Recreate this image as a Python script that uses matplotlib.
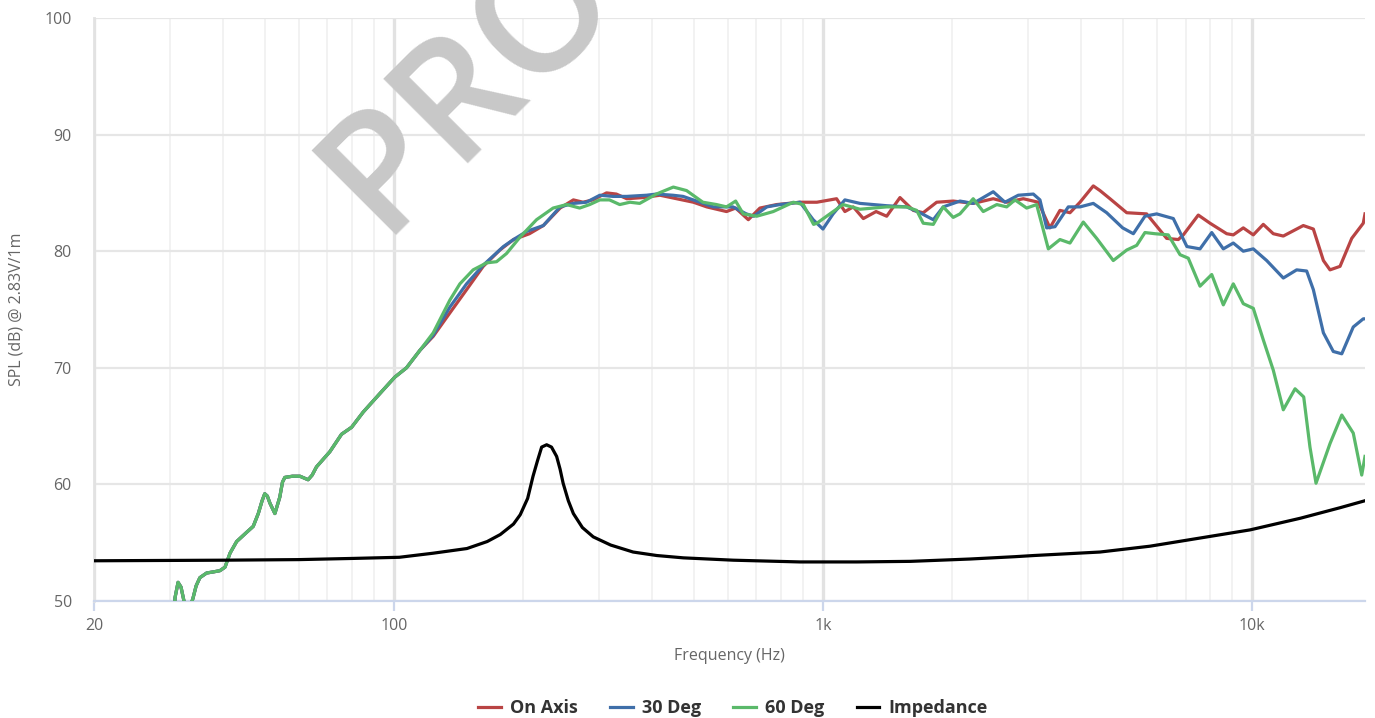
import matplotlib
matplotlib.use('Agg')
import matplotlib.pyplot as plt
import numpy as np

plt.rcParams['font.family'] = ['Open Sans', 'DejaVu Sans']

# low end, the three SPL curves sit on top of each other here
freq_low = [30.3, 30.9, 31.4, 31.9, 32.5, 32.9, 33.4, 34.0, 34.6, 35.3, 36.6, 38.0, 39.3, 40.4,
            41.5, 43.0, 45.4, 47.0, 48.3, 49.3, 50.0, 50.7, 51.4, 52.8, 54.2, 55.0, 55.7, 58.0,
            60.4, 63.1, 64.5, 66.0, 70.9, 75.5, 79.7, 84.8, 92.8, 100.5, 107, 115]
spl_low = [45.0, 50.3, 51.6, 51.2, 49.8, 49.3, 49.4, 50.2, 51.3, 52.0, 52.4, 52.5, 52.6, 52.9,
           54.1, 55.1, 55.9, 56.4, 57.5, 58.6, 59.2, 59.0, 58.4, 57.5, 58.9, 60.2, 60.6, 60.7,
           60.7, 60.4, 60.8, 61.5, 62.8, 64.3, 64.9, 66.2, 67.8, 69.2, 70.0, 71.5]

freq_on = [123.5, 135, 147.7, 161.5, 176.6, 190, 207, 223, 244, 262, 276, 291, 313, 330, 349,
           381, 417, 456, 499, 536, 596, 626, 670, 713, 780, 884, 968, 1076, 1125, 1177, 1242,
           1330, 1408, 1512, 1624, 1713, 1841, 2012, 2240, 2494, 2681, 2931, 3177, 3381, 3568,
           3765, 3973, 4267, 4423, 4667, 5105, 5681, 6326, 6734, 6918, 7496, 7983, 8731, 9046,
           9544, 10070, 10625, 11210, 11830, 13170, 13900, 14670, 15200, 16040, 17080, 18170, 18340]
spl_on = [72.7, 74.7, 76.7, 78.7, 80.1, 81.0, 81.5, 82.2, 83.7, 84.4, 84.2, 84.4, 85.0, 84.9, 84.5,
          84.6, 84.8, 84.5, 84.2, 83.8, 83.4, 83.7, 82.7, 83.7, 84.0, 84.2, 84.2, 84.5, 83.4, 83.8, 82.8,
          83.4, 83.0, 84.6, 83.5, 83.3, 84.2, 84.3, 84.1, 84.5, 84.2, 84.5, 84.2, 82.0, 83.5,
          83.3, 84.2, 85.6, 85.2, 84.5, 83.3, 83.2, 81.1, 81.0, 81.4, 83.1, 82.4, 81.5, 81.4,
          82.0, 81.4, 82.3, 81.5, 81.3, 82.2, 81.9, 79.2, 78.4, 78.7, 81.1, 82.4, 83.2]

freq_30 = [123.5, 135, 147.7, 161.5, 180, 190, 204, 223, 244, 262, 281, 302, 324, 349, 388, 409,
           447, 472, 517, 555, 617, 663, 690, 740, 794, 884, 949, 1000, 1056, 1125, 1220, 1408,
           1567, 1683, 1808, 1907, 2086, 2240, 2494, 2656, 2853, 3093, 3205, 3322, 3474, 3731,
           3973, 4267, 4585, 4995, 5290, 5630, 5996, 6556, 7052, 7566, 8057, 8574, 9046, 9544,
           10070, 10820, 11830, 12710, 13410, 13900, 14670, 15470, 16190, 17220, 18170, 18340]
spl_30 = [72.8, 75.2, 77.2, 78.8, 80.4, 81.0, 81.7, 82.2, 83.8, 84.1, 84.2, 84.8, 84.7, 84.7, 84.8, 84.9,
          84.8, 84.7, 84.2, 83.8, 83.8, 83.2, 83.0, 83.8, 84.0, 84.2, 82.7, 81.9, 83.2, 84.4, 84.1, 83.9,
          83.8, 83.3, 82.7, 83.8, 84.3, 84.1, 85.1, 84.2, 84.8, 84.9, 84.4, 82.0, 82.1, 83.8,
          83.8, 84.1, 83.3, 82.0, 81.5, 83.0, 83.2, 82.8, 80.4, 80.2, 81.6, 80.2, 80.7, 80.0,
          80.2, 79.2, 77.7, 78.4, 78.3, 76.7, 73.0, 71.4, 71.2, 73.5, 74.2, 74.2]

freq_60 = [123.5, 135, 142.5, 153, 164.5, 173.5, 183, 196.7, 215, 235, 252.7, 271, 286, 302, 318,
           336, 355, 374, 409, 448, 481, 525, 565, 596, 626, 652, 701, 766, 853, 900, 951, 968,
           1038, 1114, 1220, 1408, 1567, 1654, 1713, 1808, 1907, 2012, 2086, 2240, 2364, 2542,
           2681, 2803, 2984, 3148, 3352, 3568, 3765, 4044, 4345, 4750, 5105, 5386, 5630, 5941,
           6380, 6797, 7104, 7566, 8057, 8574, 9046, 9544, 10070, 10625, 11210, 11830, 12600,
           13200, 13650, 14100, 15200, 16190, 17220, 18020, 18340]
spl_60 = [73.0, 75.8, 77.2, 78.4, 79.0, 79.1, 79.8, 81.2, 82.7, 83.7, 84.0, 83.7, 84.0, 84.4, 84.4,
          84.0, 84.2, 84.1, 84.9, 85.5, 85.2, 84.2, 84.0, 83.8, 84.3, 83.2, 83.0, 83.4, 84.2, 84.0, 82.3, 82.4,
          83.2, 84.0, 83.6, 83.8, 83.8, 83.5, 82.4, 82.3, 83.8, 82.9, 83.2, 84.5, 83.4, 84.0,
          83.8, 84.4, 83.7, 84.0, 80.2, 81.0, 80.7, 82.5, 81.1, 79.2, 80.1, 80.5, 81.6, 81.5,
          81.4, 79.7, 79.4, 77.0, 78.0, 75.4, 77.2, 75.5, 75.1, 72.4, 69.8, 66.4, 68.2,
          67.5, 63.2, 60.1, 63.5, 65.95, 64.4, 60.8, 62.4]

freq_imp = [20, 40, 60, 80, 103, 123.5, 148, 165, 177, 190, 197, 205, 211, 216, 221, 227, 233,
            239.5, 244, 248, 255, 262, 275, 291.5, 320, 361, 410, 473, 618, 884, 1200, 1600,
            2200, 2800, 3100, 4423, 5783, 7566, 9900, 12970, 16040, 18340]
imp = [53.45, 53.5, 53.55, 53.65, 53.75, 54.1, 54.5, 55.1, 55.7, 56.6, 57.4, 58.8, 60.7, 62.0, 63.2,
       63.4, 63.2, 62.4, 61.3, 60.1, 58.6, 57.5, 56.3, 55.5, 54.8, 54.2, 53.9, 53.7, 53.5, 53.35,
       53.35, 53.4, 53.6, 53.8, 53.9, 54.2, 54.7, 55.4, 56.1, 57.1, 58.0, 58.6]

series_names = ['On Axis', '30 Deg', '60 Deg', 'Impedance']
series_colors = ['#b94444', '#3f6fa9', '#5ab96a', '#000000']

xticks = [20, 100, 1000, 10000]
xtick_labels = ['20', '100', '1k', '10k']
yticks = [50, 60, 70, 80, 90, 100]

fig = plt.figure(figsize=(13.75, 7.18), dpi=100)
ax = fig.add_axes([94 / 1375, 1 - 601 / 718, (1365 - 94) / 1375, (601 - 18) / 718])

ax.set_xscale('log')
ax.set_xlim(20, 18340)
ax.set_ylim(50, 100)

minor = [m * d for d in (10, 100, 1000) for m in range(2, 10) if m * d > 20]
ax.set_xticks(xticks)
ax.set_xticklabels(xtick_labels)
ax.set_xticks(minor, minor=True)
ax.set_xticklabels([], minor=True)
ax.set_yticks(yticks)

ax.grid(which='minor', axis='x', color='#f0f0f0', lw=1.2, zorder=0)
ax.grid(which='major', axis='x', color='#e2e2e2', lw=2.4, zorder=0)
ax.grid(which='major', axis='y', color='#e6e6e6', lw=1.6, zorder=0)
ax.set_axisbelow(True)

for s in ('top', 'right'):
    ax.spines[s].set_visible(False)
ax.spines['left'].set_color('#e2e2e2')
ax.spines['left'].set_linewidth(2.0)
ax.spines['bottom'].set_color('#ccd6eb')
ax.spines['bottom'].set_linewidth(1.6)

ax.tick_params(axis='x', which='major', length=7, width=1.6, color='#ccd6eb', pad=5,
               labelsize=11.5, labelcolor='#666666')
ax.tick_params(axis='x', which='minor', length=0)
ax.tick_params(axis='y', length=0, pad=16, labelsize=11.5, labelcolor='#666666')

ax.set_xlabel('Frequency (Hz)', fontsize=11.5, color='#666666', labelpad=10)
ax.set_ylabel('SPL (dB) @ 2.83V/1m', fontsize=11.5, color='#666666', labelpad=14)

# watermark, runs off the top edge like in the original
fig.text(381 / 1375, 1 - 236 / 718, 'PRO', rotation=45, rotation_mode='anchor',
         ha='left', va='baseline', fontsize=120, color='#c8c8c8', fontweight='semibold', zorder=1)

ax.plot(freq_low + freq_on, spl_low + spl_on, color=series_colors[0], lw=2.3,
        label=series_names[0], zorder=3, solid_joinstyle='round')
ax.plot(freq_low + freq_30, spl_low + spl_30, color=series_colors[1], lw=2.3,
        label=series_names[1], zorder=4, solid_joinstyle='round')
ax.plot(freq_low + freq_60, spl_low + spl_60, color=series_colors[2], lw=2.3,
        label=series_names[2], zorder=5, solid_joinstyle='round')
ax.plot(freq_imp, imp, color=series_colors[3], lw=2.3, label=series_names[3], zorder=6,
        solid_joinstyle='round')

fig.legend(loc='center', bbox_to_anchor=(733 / 1375, 1 - 708 / 718), ncol=4, frameon=False,
           prop={'size': 13, 'weight': 'bold'}, labelcolor='#333333',
           handlelength=1.25, handletextpad=0.5, columnspacing=1.8)

fig.savefig('out.png', dpi=100)
